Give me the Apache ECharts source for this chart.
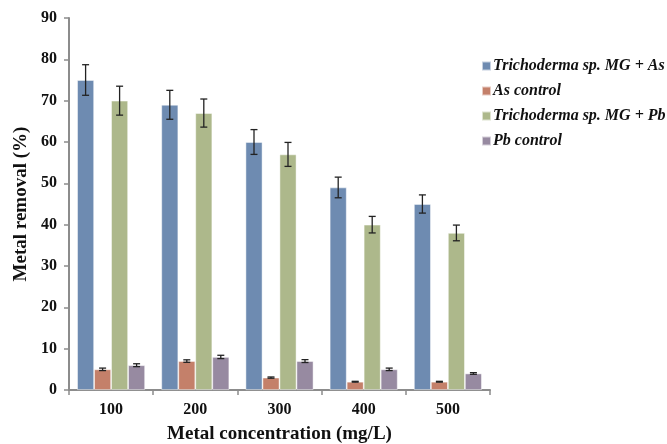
<!DOCTYPE html>
<html>
<head>
<meta charset="utf-8">
<script src="https://cdn.jsdelivr.net/npm/echarts@6/dist/echarts.min.js"></script>
<style>
  html, body { margin: 0; padding: 0; background: #fff; }
  #chart { width: 667px; height: 444px; }
</style>
</head>
<body>
<div id="chart"></div>
<script>
// Metal concentrations (mg/L)
const categories = ['100', '200', '300', '400', '500'];

// Mean metal removal (%) and standard errors
const seriesNames = [
  'Trichoderma sp. MG + As',
  'As control',
  'Trichoderma sp. MG + Pb',
  'Pb control'
];
const asTreated = [75, 69, 60, 49, 45];
const asTreatedErr = [3.7, 3.5, 3.0, 2.5, 2.2];
const asControl = [5, 7, 3, 2, 2];
const asControlErr = [0.3, 0.3, 0.15, 0.1, 0.1];
const pbTreated = [70, 67, 57, 40, 38];
const pbTreatedErr = [3.5, 3.4, 2.9, 2.0, 1.9];
const pbControl = [6, 8, 7, 5, 4];
const pbControlErr = [0.35, 0.4, 0.35, 0.3, 0.2];

const colors = ['#6E8BB1', '#C4806A', '#ADB88B', '#978AA1'];
const values = [asTreated, asControl, pbTreated, pbControl];
const errors = [asTreatedErr, asControlErr, pbTreatedErr, pbControlErr];

const BAR_W = 17;
const serif = '"Liberation Serif", "Times New Roman", serif';

const chart = echarts.init(document.getElementById('chart'));

const barSeries = values.map((v, i) => ({
  name: seriesNames[i],
  type: 'bar',
  data: v,
  barWidth: BAR_W,
  barGap: '0%',
  itemStyle: { color: colors[i], borderColor: 'rgba(255,255,255,0.6)', borderWidth: 0.8 },
  emphasis: { disabled: true }
}));

// Error bars drawn on top of each bar, shifted to that bar's slot
const errorSeries = values.map((v, i) => ({
  type: 'custom',
  name: seriesNames[i] + ' error',
  data: v.map((m, k) => [k, m - errors[i][k], m + errors[i][k]]),
  z: 10,
  silent: true,
  renderItem: function (params, api) {
    const offset = (i - 1.5) * BAR_W;
    const lo = api.coord([api.value(0), api.value(1)]);
    const hi = api.coord([api.value(0), api.value(2)]);
    const x = lo[0] + offset;
    const half = 3.5;
    const style = { stroke: '#222', lineWidth: 1.3 };
    return {
      type: 'group',
      children: [
        { type: 'line', shape: { x1: x, y1: hi[1], x2: x, y2: lo[1] }, style: style },
        { type: 'line', shape: { x1: x - half, y1: hi[1], x2: x + half, y2: hi[1] }, style: style },
        { type: 'line', shape: { x1: x - half, y1: lo[1], x2: x + half, y2: lo[1] }, style: style }
      ]
    };
  }
}));

chart.setOption({
  animation: false,
  grid: {
    left: 69, right: 177, top: 18, bottom: 54,
    containLabel: false,
    outerBoundsMode: 'none'
  },
  legend: {
    data: seriesNames,
    orient: 'vertical',
    left: 476,
    top: 53,
    itemWidth: 9,
    itemHeight: 9,
    itemGap: 9,
    icon: 'rect',
    textStyle: {
      fontFamily: serif,
      fontWeight: 'bold',
      fontStyle: 'italic',
      fontSize: 16,
      lineHeight: 16,
      padding: [0, 0, 0, -3],
      color: '#111'
    }
  },
  xAxis: {
    type: 'category',
    data: categories,
    name: 'Metal concentration (mg/L)',
    nameLocation: 'middle',
    nameGap: 35,
    nameTextStyle: { fontFamily: serif, fontWeight: 'bold', fontSize: 19, color: '#111' },
    axisLine: { lineStyle: { color: '#8C8C8C', width: 2 } },
    axisTick: { show: true, length: 5, lineStyle: { color: '#8C8C8C', width: 1.5 } },
    axisLabel: { fontFamily: serif, fontWeight: 'bold', fontSize: 16, color: '#111', margin: 12 }
  },
  yAxis: {
    type: 'value',
    min: 0,
    max: 90,
    interval: 10,
    name: 'Metal removal (%)',
    nameLocation: 'middle',
    nameGap: 37,
    nameTextStyle: { fontFamily: serif, fontWeight: 'bold', fontSize: 19, color: '#111' },
    axisLine: { show: true, lineStyle: { color: '#8C8C8C', width: 2 } },
    axisTick: { show: true, length: 5, lineStyle: { color: '#8C8C8C', width: 1.5 } },
    splitLine: { show: false },
    axisLabel: { fontFamily: serif, fontWeight: 'bold', fontSize: 16, color: '#111', margin: 12 }
  },
  series: barSeries.concat(errorSeries)
});
</script>
</body>
</html>
